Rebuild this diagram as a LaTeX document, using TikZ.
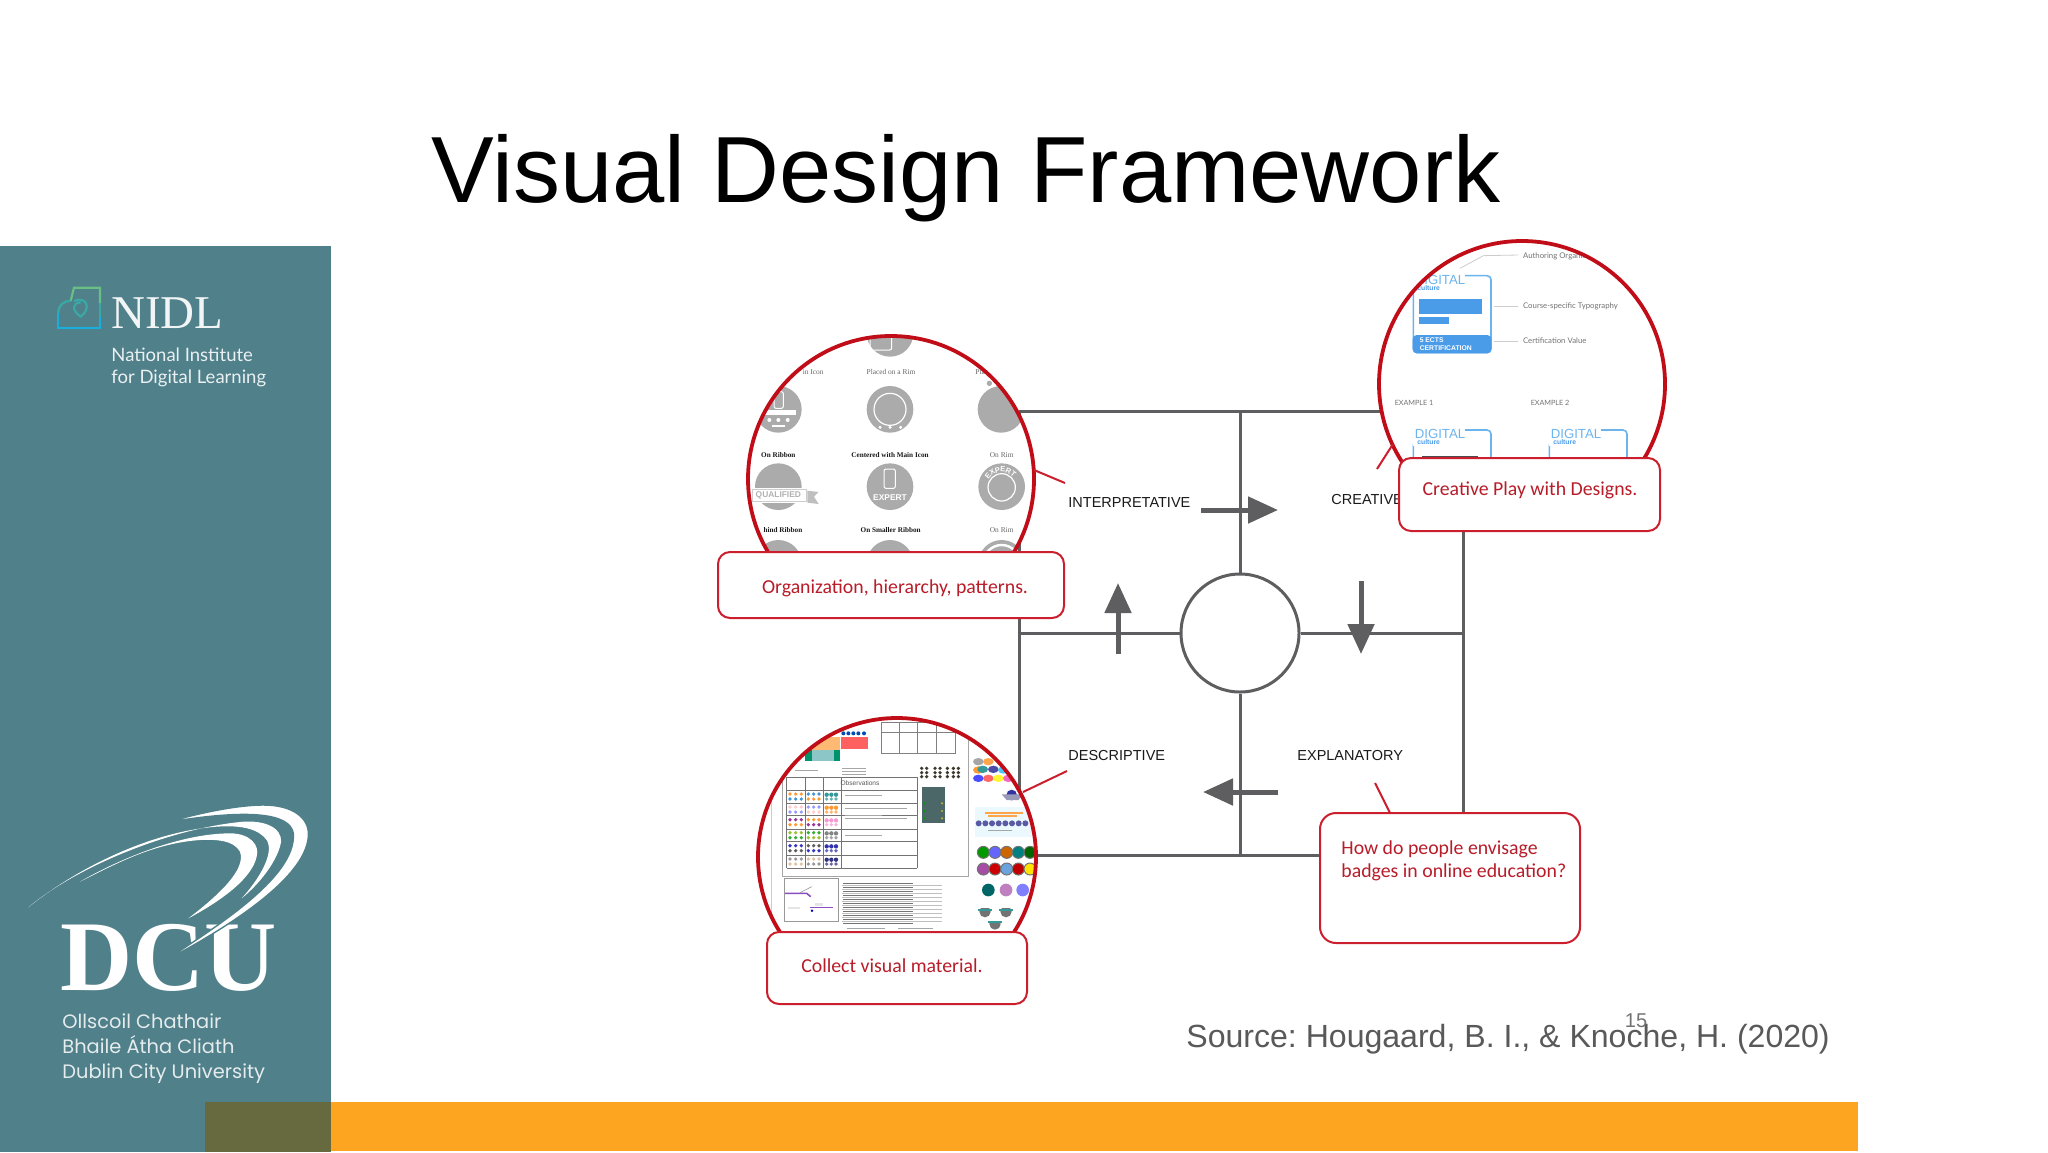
\documentclass[tikz,border=0pt]{standalone}
\usepackage{fontspec}
\setmainfont{Liberation Sans}
\newfontfamily\serifface{Liberation Serif}
\newfontfamily\calloutface{Carlito}
\newfontfamily\panelface{Lato}
\newfontfamily\campusface{Poppins}
\usetikzlibrary{arrows.meta}
\definecolor{panelteal}{HTML}{50808A}
\definecolor{barolive}{HTML}{666A3E}
\definecolor{barorange}{HTML}{FDA521}
\definecolor{gridgrey}{HTML}{5E5E60}
\definecolor{lensred}{HTML}{C00D18}
\definecolor{boxred}{HTML}{CC1F2D}
\definecolor{badgegrey}{HTML}{ABABAB}
\definecolor{badgeblue}{HTML}{4A9BE8}
\definecolor{frameblue}{HTML}{6CB4EE}
\definecolor{icongreen}{HTML}{69BE86}
\definecolor{iconteal}{HTML}{3AA9A6}
\definecolor{iconcyan}{HTML}{19AEDC}
\tikzset{
	zoomed/.style={x=.16667pt,y=-.16667pt},
	gridline/.style={draw=gridgrey,line width=1.5pt},
	flow/.style={draw=gridgrey,line width=2.5pt,-{Triangle[length=15pt,width=13pt]}},
	stage/.style={font=\fontsize{7.25}{8}\selectfont,text=black!90,inner sep=0pt,anchor=base west},
	lens/.style={draw=lensred,line width=1.9pt},
	leader/.style={draw=boxred,line width=1pt},
	callout/.style={draw=boxred,line width=1pt,fill=white,rounded corners=6pt},
	saying/.style={font=\calloutface\fontsize{9.9}{11.5}\selectfont,text=boxred!90!black,inner sep=0pt},
	tinyserif/.style={font=\serifface\fontsize{3.7}{4}\selectfont,text=black!60,inner sep=0pt},
	tinybold/.style={font=\serifface\bfseries\fontsize{3.6}{4}\selectfont,text=black!90,inner sep=0pt},
	tinysans/.style={font=\panelface\fontsize{3.9}{4}\selectfont,text=black!55,inner sep=0pt,anchor=west},
	ruleline/.style={draw=black!35,line width=.25pt},
}
\begin{document}
\begin{tikzpicture}[x=.5pt,y=-.5pt]
		\useasboundingbox (0,0) rectangle (2048,1152);
		\fill[white] (0,0) rectangle (2048,1152);
		\node[font=\fontsize{47}{50}\selectfont,inner sep=0pt,anchor=base west] (title) at (431,202) {Visual Design Framework};
		\fill[panelteal] (0,246) rectangle (331,1152);
		\fill[barorange] (331,1102) rectangle (1858,1151);
		\fill[barolive] (205,1102) rectangle (331,1152);
		\begin{scope}[shift={(50,275)},zoomed,line width=1.1pt]
			\draw[draw=icongreen] (150,85) to (150,38) to (72,38) to (62,78);
			\draw[draw=iconteal] (62,78) .. controls (40,78) and (25,90) .. (25,115);
			\draw[draw=iconteal] (150,85) to (150,125);
			\draw[draw=iconcyan] (25,115) to (25,160) to (150,160) to (150,125);
			\draw[draw=iconteal] (72,78) .. controls (110,62) and (125,100) .. (92,125) .. controls (65,105) and (65,85) .. (92,82);
		\end{scope}
		\node[font=\serifface\fontsize{23.5}{24}\selectfont,text=white!92!panelteal,inner sep=0pt,anchor=base west] (nidl) at (111,328) {NIDL};
		\node[font=\panelface\fontsize{9.25}{11}\selectfont,text=white!88!panelteal,inner sep=0pt,anchor=base west] (nidlname) at (111,361) {National Institute};
		\node[font=\panelface\fontsize{9.25}{11}\selectfont,text=white!88!panelteal,inner sep=0pt,anchor=base west] (nidlfor) at (111,383) {for Digital Learning};
		\node[font=\serifface\bfseries\fontsize{50}{52}\selectfont,text=white,inner sep=0pt,anchor=base west] (dcu) at (60,990) {DCU};
		\begin{scope}[shift={(10,790)},zoomed]
			\fill[white] (55,352) .. controls (200,230) and (480,115) .. (700,95) .. controls (790,90) and (825,130) .. (810,170) .. controls (795,220) and (750,280) .. (695,325) .. controls (745,270) and (795,190) .. (770,150) .. controls (745,115) and (690,105) .. (620,110) .. controls (420,125) and (200,235) .. (55,352);
			\fill[white] (210,275) .. controls (340,200) and (520,130) .. (660,130) .. controls (720,130) and (750,165) .. (740,200) .. controls (725,270) and (620,340) .. (535,385) .. controls (620,320) and (710,240) .. (690,185) .. controls (670,150) and (620,148) .. (570,150) .. controls (430,160) and (320,220) .. (210,275);
			\filldraw[fill=white,draw=panelteal,line width=.7pt] (470,97) .. controls (600,60) and (700,45) .. (760,45) .. controls (850,45) and (900,85) .. (895,140) .. controls (885,270) and (640,420) .. (455,518) .. controls (620,410) and (860,260) .. (850,130) .. controls (840,70) and (720,55) .. (470,97);
		\end{scope}
		\node[font=\campusface\fontsize{9.7}{10}\selectfont,text=white!85!panelteal,inner sep=0pt,anchor=base west] (irish) at (62,1028) {Ollscoil Chathair};
		\node[font=\campusface\fontsize{9.7}{10}\selectfont,text=white!85!panelteal,inner sep=0pt,anchor=base west] (irishtwo) at (62,1053) {Bhaile Átha Cliath};
		\node[font=\campusface\fontsize{9.7}{10}\selectfont,text=white!85!panelteal,inner sep=0pt,anchor=base west] (dublin) at (62,1078) {Dublin City University};

		\coordinate (tl) at (1019,411);
		\coordinate (tm) at (1240,411);
		\coordinate (tr) at (1463,411);
		\coordinate (ml) at (1019,633);
		\coordinate (mr) at (1463,633);
		\coordinate (bl) at (1019,855);
		\coordinate (bm) at (1240,855);
		\coordinate (br) at (1463,855);
		\node[circle,draw=gridgrey,line width=1.5pt,minimum size=59pt,inner sep=0pt] (hub) at (1240,633) {};
		\draw[gridline] (tl) to (tr) to (br) to (bl) to (tl);
		\draw[gridline] (tm) to (hub);
		\draw[gridline] (hub) to (bm);
		\draw[gridline] (ml) to (hub);
		\draw[gridline] (hub) to (mr);
		\coordinate (a1) at (1201,510);
		\coordinate (a2) at (1278,510);
		\coordinate (b1) at (1361,581);
		\coordinate (b2) at (1361,654);
		\coordinate (c1) at (1278,792);
		\coordinate (c2) at (1203,792);
		\coordinate (d1) at (1118,654);
		\coordinate (d2) at (1118,583);
		\draw[flow] (a1) to (a2);
		\draw[flow] (b1) to (b2);
		\draw[flow] (c1) to (c2);
		\draw[flow] (d1) to (d2);
		\node[stage] (interp) at (1068,507) {INTERPRETATIVE};
		\node[stage] (creat) at (1331,504) {CREATIVE};
		\node[stage] (descr) at (1068,760) {DESCRIPTIVE};
		\node[stage] (expl) at (1297,760) {EXPLANATORY};

		\coordinate (lensA) at (891,479);
		\begin{scope}
			\clip (700,300) rectangle (1100,600);
			\fill[white] (lensA) circle (143);
			\clip (lensA) circle (143);
			\begin{scope}[shift={(700,320)},zoomed]
				\foreach \px/\py in {570/40,235/268,570/268,903/268,235/500,570/500,905/500,235/730,570/730,905/730}
					\fill[badgegrey] (\px,\py) circle (70);
				\draw[white,line width=.6pt] (570,268) circle (48);
				\foreach \px in {540,570,602}
					\fill[white] (\px,322) circle (5);
				\draw[white,line width=.5pt,rounded corners=1pt] (510,45) rectangle (575,90);
				\fill[white] (165,270) rectangle (288,285);
				\foreach \px in {208,235,263}
					\fill[white] (\px,300) circle (6);
				\fill[white] (215,316) rectangle (255,322);
				\draw[white,line width=.5pt,rounded corners=1pt] (222,215) rectangle (250,265);
				\fill[badgegrey] (868,190) circle (8);
				\fill[white] (155,503) rectangle (322,548);
				\draw[badgegrey!60,line width=.4pt] (158,507) rectangle (318,544);
				\fill[black!25] (322,512) to (356,516) to (342,530) to (356,552) to (322,548) to cycle;
				\node[font=\bfseries\fontsize{4.2}{4}\selectfont,text=black!30,inner sep=0pt] (qual) at (235,525) {QUALIFIED};
				\draw[white,line width=.5pt,rounded corners=1pt] (552,447) rectangle (586,505);
				\node[font=\bfseries\fontsize{4.2}{4}\selectfont,text=white,inner sep=0pt] (exp) at (570,533) {EXPERT};
				\draw[white,line width=.6pt] (905,502) circle (41);
				\foreach \ch/\ang in {E/140,X/122,P/104,E/86,R/68,T/50}
					\node[font=\bfseries\fontsize{3.8}{4}\selectfont,text=white,rotate=\ang-90,inner sep=0pt] at ({905+54*cos(\ang)},{502-54*sin(\ang)}) {\ch};
				\draw[white,line width=1.2pt] (905,730) circle (55);
				\node[tinyserif,anchor=east] (rowa) at (372,157) {in Icon};
				\node[tinyserif] (rowb) at (573,157) {Placed on a Rim};
				\node[tinyserif,anchor=west] (rowc) at (825,157) {Placed};
				\node[tinybold] (rowd) at (235,405) {On Ribbon};
				\node[tinybold] (rowe) at (570,405) {Centered with Main Icon};
				\node[tinyserif] (rowf) at (905,405) {On Rim};
				\node[tinybold,anchor=east] (rowg) at (308,630) {hind Ribbon};
				\node[tinybold] (rowh) at (572,630) {On Smaller Ribbon};
				\node[tinyserif] (rowi) at (905,630) {On Rim};
			\end{scope}
		\end{scope}
		\begin{scope}
			\clip (700,300) rectangle (1100,600);
			\draw[lens] (lensA) circle (143);
		\end{scope}

		\coordinate (lensB) at (1522,384);
		\fill[white] (lensB) circle (143);
		\begin{scope}
			\clip (lensB) circle (143);
			\begin{scope}[shift={(1350,220)},zoomed]
				\foreach \ox/\oy/\oh in {0/0/231,0/463/120,408/463/120}
					\draw[frameblue,line width=.8pt,rounded corners=2pt] (345+\ox,167+\oy) to (423+\ox,167+\oy) to (423+\ox,167+\oy+\oh) to (190+\ox,167+\oy+\oh) to (190+\ox,210+\oy);
				\fill[badgeblue,rounded corners=2pt] (188,345) rectangle (424,400);
				\fill[badgeblue] (208,238) rectangle (397,281);
				\fill[badgeblue] (208,290) rectangle (297,312);
				\node[font=\bfseries\fontsize{3.4}{3.8}\selectfont,text=white,inner sep=0pt,anchor=west,align=left] (ects) at (208,372) {5 ECTS\\CERTIFICATION};
				\foreach \ox/\oy in {0/0,0/463,408/463} {
					\fill[white] (190+\ox,160+\oy) rectangle (345+\ox,215+\oy);
					\node[font=\fontsize{6.6}{7}\selectfont,text=frameblue,inner sep=0pt] at (270+\ox,179+\oy) {DIGITAL};
					\node[font=\bfseries\fontsize{3.4}{4}\selectfont,text=badgeblue,inner sep=0pt] at (236+\ox,204+\oy) {culture};
				}
				\node[font=\bfseries\fontsize{11}{12}\selectfont,text=badgeblue,inner sep=0pt] (data) at (690,738) {DATA};
				\fill[black!70] (215,708) rectangle (385,718);
				\draw[draw=black!20,line width=.4pt] (505,105) to (400,107) to (330,145);
				\draw[draw=black!20,line width=.4pt] (505,258) to (433,258);
				\draw[draw=black!20,line width=.4pt] (505,363) to (433,363);
				\node[tinysans] (organ) at (518,108) {Authoring Organisation};
				\node[tinysans] (typo) at (518,258) {Course-specific Typography};
				\node[tinysans] (value) at (518,362) {Certification Value};
				\node[tinysans,font=\panelface\fontsize{3.6}{4}\selectfont] (ex1) at (133,550) {EXAMPLE 1};
				\node[tinysans,font=\panelface\fontsize{3.6}{4}\selectfont] (ex2) at (541,550) {EXAMPLE 2};
			\end{scope}
		\end{scope}
		\draw[lens] (lensB) circle (143);

		\coordinate (lensC) at (897,857);
		\fill[white] (lensC) circle (139);
		\begin{scope}
			\clip (lensC) circle (139);
			\begin{scope}[shift={(740,700)},zoomed]
				\draw[draw=black!35,line width=.6pt] (128,0) to (128,530) to (685,530) to (685,0);
				\draw[draw=black!20,line width=.4pt] (95,300) to (95,640);
				\fill[orange!55] (190,110) rectangle (300,150);
				\fill[red!50!pink] (302,110) rectangle (385,148);
				\fill[teal!45] (195,150) rectangle (300,183);
				\fill[teal!85!green] (195,150) rectangle (215,183);
				\fill[teal!85!green] (282,150) rectangle (300,183);
				\foreach \px in {310,325,340,355,372}
					\fill[blue!40!teal] (\px,100) circle (6);
				\draw[draw=black!50,line width=.35pt] (423,68) rectangle (645,160);
				\draw[draw=black!50,line width=.35pt] (423,97) to (645,97);
				\foreach \px in {478,532,588}
					\draw[draw=black!50,line width=.35pt] (\px,68) to (\px,160);
				\foreach \py in {205,215,222}
					\draw[ruleline] (305,\py) to (378,\py);
				\draw[ruleline] (165,210) to (235,210);
				\foreach \py in {232,270,310,347,387,425,465,505}
					\draw[draw=black!55,line width=.5pt] (140,\py) to (532,\py);
				\foreach \px in {140,195,250,305,532}
					\draw[draw=black!55,line width=.5pt] (\px,232) to (\px,505);
				\node[font=\fontsize{3.3}{4}\selectfont,text=black!65,inner sep=0pt] (obs) at (360,250) {Observations};
				\foreach \py/\ca/\cb/\cc in {290/orange/cyan!60!blue/teal,329/pink/blue!50/orange,367/violet/orange/magenta!50,406/lime!70!black/green!60!black/black!60,445/blue!70!black/black!80/blue!60!black,485/black!50/brown!60/blue!40!black}
					\foreach \ix in {0,1,2} {
						\fill[\ca,opacity=.8] (150+\ix*17,\py-8) circle (5.5);
						\fill[\cb,opacity=.8] (150+\ix*17,\py+7) circle (5.5);
						\fill[\cb,opacity=.8] (205+\ix*16,\py-8) circle (5.5);
						\fill[\ca,opacity=.8] (205+\ix*16,\py+7) circle (5.5);
						\fill[\cc,opacity=.8] (260+\ix*14,\py-6) circle (6.5);
						\fill[\cc,opacity=.6] (260+\ix*14,\py+7) circle (5.5);
					}
				\foreach \py in {285,345,405}
					\draw[ruleline] (315,\py) to (425,\py);
				\draw[ruleline] (315,355) to (500,355);
				\draw[ruleline] (315,325) to (500,325);
				\foreach \px in {545,560,585,600,622,640,655}
					\foreach \py in {205,218,230}
						\fill[black!75!olive] (\px,\py) circle (5.5);
				\fill[black!70!teal!70] (545,260) rectangle (615,368);
				\foreach \py in {310,333,355} {
					\fill[green!60!black] (553,\py) circle (3.5);
					\fill[yellow!70!black] (606,\py) circle (3.5);
				}
				\foreach \px/\py/\col in {715/185/black!35,745/185/orange!70,715/210/orange!80,728/208/teal!80,760/208/blue!50!black!70,790/210/cyan!70,715/235/blue!70,745/235/red!60,775/235/yellow!80,805/235/magenta!60}
					\fill[\col] (\px,\py) ellipse (16 and 11);
				\fill[blue!55!black!80] (815,285) circle (16);
				\fill[blue!30!black!40] (785,283) to (850,283) to (835,300) to (800,300) to cycle;
				\fill[cyan!8] (705,320) rectangle (875,412);
				\fill[orange!70] (735,335) rectangle (850,342);
				\fill[orange!70] (745,345) rectangle (830,350);
				\foreach \px in {716,736,756,776,796,816,836,856}
					\fill[blue!45!black!65] (\px,370) circle (9);
				\draw[ruleline] (745,392) to (815,392);
				\foreach \px/\col in {730/green!60!black,765/blue!60,800/orange!80!black,835/teal,870/green!40!black}
					\filldraw[fill=\col,draw=black!55,line width=.5pt] (\px,457) circle (18);
				\foreach \px/\col in {730/violet!70,765/red!80!black,800/cyan!60!blue!60,835/red!75!black,870/yellow!85!orange}
					\filldraw[fill=\col,draw=black!55,line width=.5pt] (\px,507) circle (18);
				\foreach \px/\py/\col in {745/570/teal!80!black,798/570/violet!50,848/570/blue!50}
					\fill[\col] (\px,\py) circle (19);
				\foreach \px/\py in {735/635,798/635,765/672} {
					\fill[black!55] (\px,\py) circle (17);
					\fill[white] (\px-20,\py-22) rectangle (\px+20,\py-10);
					\fill[teal!80] (\px-20,\py-8) rectangle (\px+20,\py-2);
				}
				\draw[draw=black!40,line width=.5pt] (133,535) rectangle (295,665);
				\draw[draw=violet!70!blue!70,line width=.8pt] (135,580) to (200,580) to (212,590);
				\draw[draw=violet!70!blue!70,line width=.8pt] (210,622) to (280,622);
				\draw[draw=black!40,line width=.3pt] (180,578) to (215,560);
				\fill[blue!70!black] (216,632) circle (4);
				\fill[black!10] (145,620) rectangle (180,628);
				\fill[black!10] (225,610) rectangle (250,618);
				\foreach \py in {550,562,...,670}
					\draw[draw=black!55,line width=.3pt] (310,\py) to (520,\py);
				\foreach \py in {556,568,...,670}
					\draw[draw=black!25,line width=.25pt] (305,\py) to (605,\py);
				\draw[ruleline] (320,685) to (435,685);
				\draw[ruleline] (475,685) to (580,685);
			\end{scope}
		\end{scope}
		\draw[lens] (lensC) circle (139);

		\coordinate (lensAtip) at (1034,470);
		\coordinate (freeA) at (1065,483);
		\coordinate (lensBtip) at (1393,444);
		\coordinate (freeB) at (1377,469);
		\coordinate (lensCtip) at (1023,792);
		\coordinate (freeC) at (1067,771);
		\coordinate (freeD) at (1375,783);
		\coordinate (footD) at (1390,813);
		\draw[leader] (lensAtip) to (freeA);
		\draw[leader] (lensBtip) to (freeB);
		\draw[leader] (lensCtip) to (freeC);
		\draw[leader] (freeD) to (footD);

		\node[callout,minimum width=173pt,minimum height=33pt,inner sep=0pt] (boxA) at (891,585) {};
		\node[saying] (sayA) at (895,588) {Organization, hierarchy, patterns.};
		\node[callout,minimum width=130.5pt,minimum height=36.5pt,inner sep=0pt] (boxB) at (1529.5,494.5) {};
		\node[saying] (sayB) at (1530,490.5) {Creative Play with Designs.};
		\node[callout,minimum width=130pt,minimum height=36pt,inner sep=0pt] (boxC) at (897,968) {};
		\node[saying] (sayC) at (892,966) {Collect visual material.};
		\node[callout,rounded corners=8pt,minimum width=130pt,minimum height=65pt,inner sep=0pt] (boxD) at (1450,878) {};
		\node[saying,anchor=north west,align=left] (sayD) at (1341,840) {How do people envisage\\badges in online education?};

		\node[font=\frenchspacing\fontsize{16.03}{18}\selectfont,text=black!65,inner sep=0pt,anchor=base west] (source) at (1186,1047) {Source: Hougaard, B. I., \& Knoche, H. (2020)};
		\node[font=\fontsize{10}{11}\selectfont,text=black!55,inner sep=0pt] (page) at (1636,1021) {15};
		\end{tikzpicture}
\end{document}
